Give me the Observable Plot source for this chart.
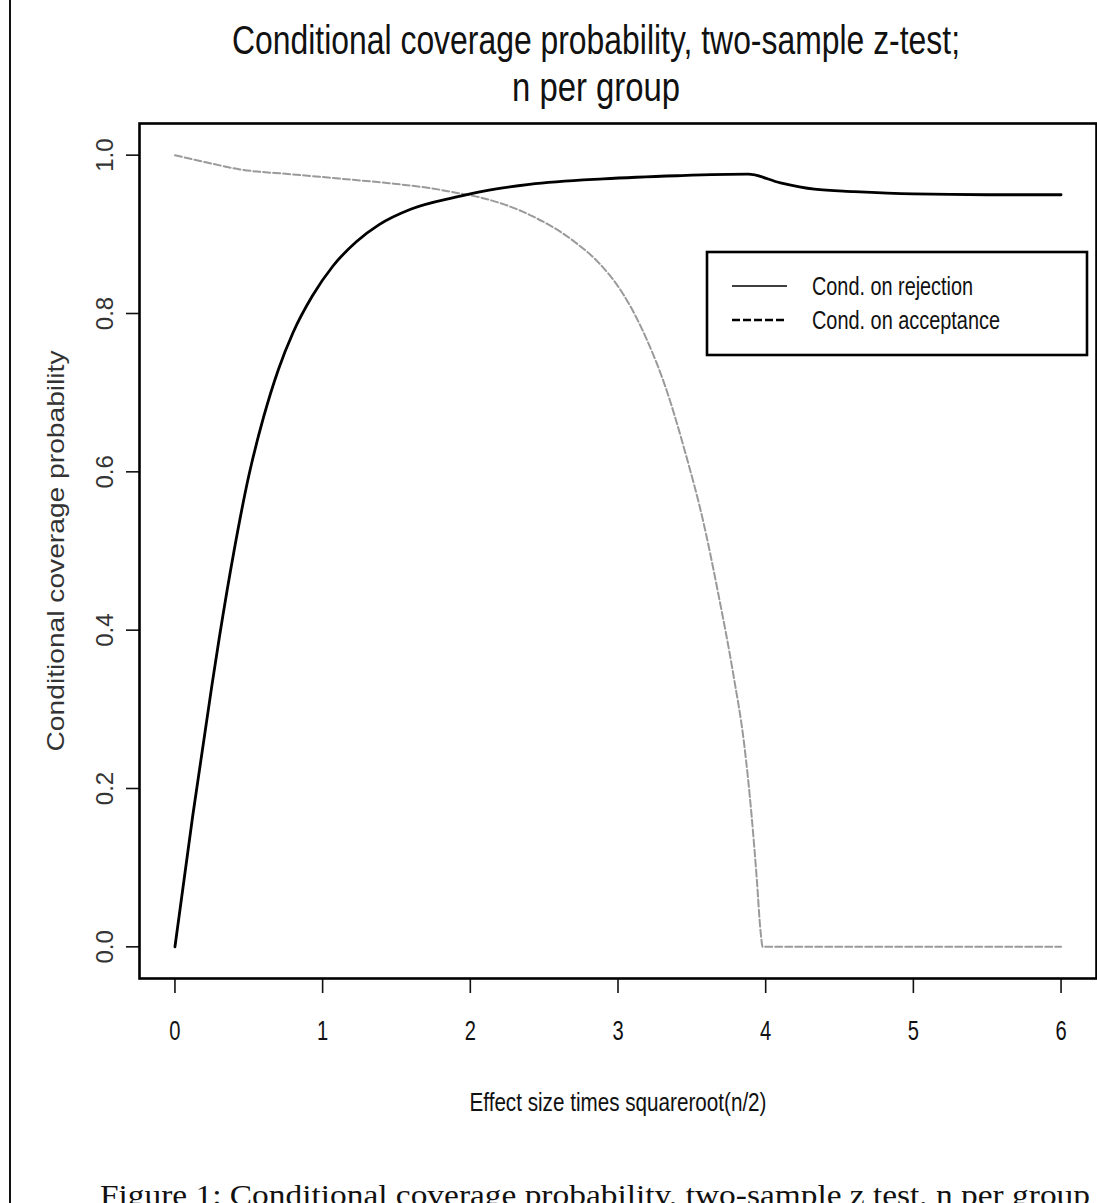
<!DOCTYPE html>
<html>
<head>
<meta charset="utf-8">
<script src="https://cdn.jsdelivr.net/npm/d3@7"></script>
<script src="https://cdn.jsdelivr.net/npm/@observablehq/plot@0.6"></script>
<style>
  html, body { margin: 0; padding: 0; background: #fff; }
  #page { position: relative; width: 1097px; height: 1203px; overflow: hidden; background: #fff; }
  #rule { position: absolute; left: 9px; top: 0; width: 2px; height: 1203px; background: #111; }
  #title { position: absolute; left: 0; top: 0; }
  #chart { position: absolute; left: 0; top: 110px; }
  #overlay { position: absolute; left: 0; top: 0; pointer-events: none; }
  svg text { font-family: "Liberation Sans", Arial, Helvetica, sans-serif; }
</style>
</head>
<body>
<div id="page">
  <div id="rule"></div>
  <svg id="title" width="1097" height="115">
    <text x="596" y="54" text-anchor="middle" font-size="40" textLength="728" lengthAdjust="spacingAndGlyphs" fill="#111">Conditional coverage probability, two-sample z-test;</text>
    <text x="596" y="101" text-anchor="middle" font-size="40" textLength="168" lengthAdjust="spacingAndGlyphs" fill="#111">n per group</text>
  </svg>
  <div id="chart"></div>
  <svg id="overlay" width="1097" height="1203">
    <rect x="707" y="252" width="380" height="103" fill="#fff" stroke="#000" stroke-width="2.6"></rect>
    <line x1="732" x2="787" y1="286" y2="286" stroke="#000" stroke-width="1.4"></line>
    <line x1="732" x2="787" y1="320" y2="320" stroke="#000" stroke-width="2.6" stroke-dasharray="8,3"></line>
    <text x="812" y="295" font-size="25" textLength="161" lengthAdjust="spacingAndGlyphs" fill="#111">Cond. on rejection</text>
    <text x="812" y="329" font-size="25" textLength="188" lengthAdjust="spacingAndGlyphs" fill="#111">Cond. on acceptance</text>
    <text x="100" y="1205" font-size="29" textLength="990" lengthAdjust="spacingAndGlyphs" fill="#111" style="font-family: 'Liberation Serif', 'DejaVu Serif', serif;">Figure 1: Conditional coverage probability, two-sample z test, n per group</text>
  </svg>
</div>
<script>
// ---- data ----
const xTicks = [0, 1, 2, 3, 4, 5, 6];
const yTicks = [0, 0.2, 0.4, 0.6, 0.8, 1.0];
const xTitle = "Effect size times squareroot(n/2)";
const yTitle = "Conditional coverage probability";

// Conditional on rejection (black, solid)
const rejX = [0, 0.12, 0.25, 0.3, 0.4, 0.5, 0.6, 0.7, 0.8, 0.93, 1.07, 1.23, 1.38, 1.6, 1.9, 2.1, 2.4, 2.9, 3.4, 3.88, 4.1, 4.33, 4.6, 5.0, 5.5, 6.0];
const rejY = [0, 0.165, 0.33, 0.39, 0.50, 0.595, 0.669, 0.729, 0.776, 0.822, 0.860, 0.891, 0.912, 0.932, 0.947, 0.955, 0.963, 0.970, 0.974, 0.976, 0.965, 0.957, 0.954, 0.951, 0.950, 0.950];

// Conditional on acceptance (grey, dashed)
const accX = [0, 0.21, 0.44, 0.78, 1.11, 1.45, 1.74, 1.92, 2.08, 2.42, 2.71, 2.87, 3.03, 3.2, 3.32, 3.45, 3.58, 3.68, 3.78, 3.855, 3.905, 3.94, 3.965, 3.98, 4.2, 5.0, 6.0];
const accY = [1.0, 0.991, 0.982, 0.976, 0.9705, 0.9646, 0.958, 0.952, 0.946, 0.923, 0.890, 0.864, 0.826, 0.765, 0.708, 0.628, 0.535, 0.445, 0.345, 0.255, 0.165, 0.085, 0.02, 0, 0, 0, 0];

const rejection = rejX.map((x, i) => ({x, y: rejY[i]}));
const acceptance = accX.map((x, i) => ({x, y: accY[i]}));

const chart = Plot.plot({
  width: 1097,
  height: 1010,
  marginLeft: 139,
  marginRight: 1,
  marginTop: 13,
  marginBottom: 142,
  x: {domain: [-0.24, 6.24]},
  y: {domain: [-0.04, 1.04]},
  style: {fontFamily: "Liberation Sans, Arial, Helvetica, sans-serif", background: "transparent", overflow: "visible", color: "#111"},
  marks: [
    Plot.axisX({ticks: xTicks, tickSize: 15, tickPadding: 27, tickFormat: d3.format("d"), fontSize: 28, label: null, strokeWidth: 1.6}),
    Plot.axisY({ticks: yTicks, tickSize: 13, tickRotate: -90, tickPadding: 14, tickFormat: d3.format(".1f"), fontSize: 24, label: null, strokeWidth: 1.6, fill: "#333"}),
    Plot.line(acceptance, {x: "x", y: "y", stroke: "#9a9a9a", strokeWidth: 2, strokeDasharray: "7,3", curve: "monotone-x"}),
    Plot.line(rejection, {x: "x", y: "y", stroke: "#000", strokeWidth: 2.8, curve: "monotone-x"}),
    Plot.frame({stroke: "#000", strokeWidth: 2.6}),
    Plot.text([xTitle], {text: d => d, frameAnchor: "bottom", textAnchor: "middle", dy: 132, lineAnchor: "bottom", fontSize: 25, fill: "#111"}),
    Plot.text([yTitle], {text: d => d, frameAnchor: "left", textAnchor: "middle", dx: -76, rotate: -90, lineAnchor: "bottom", fontSize: 24, fill: "#333"})
  ]
});

document.getElementById("chart").appendChild(chart);

// condensed (narrow Helvetica-like) look of the original device text
chart.querySelectorAll('g[aria-label="x-axis tick label"] text').forEach(t => {
  const w = t.getComputedTextLength();
  t.setAttribute("textLength", (w * 0.72).toFixed(1));
  t.setAttribute("lengthAdjust", "spacingAndGlyphs");
});
chart.querySelectorAll("text").forEach(t => {
  if (t.textContent === xTitle) {
    t.setAttribute("textLength", "297");
    t.setAttribute("lengthAdjust", "spacingAndGlyphs");
  } else if (t.textContent === yTitle) {
    t.setAttribute("textLength", "401");
    t.setAttribute("lengthAdjust", "spacingAndGlyphs");
  }
});
</script>
</body>
</html>
